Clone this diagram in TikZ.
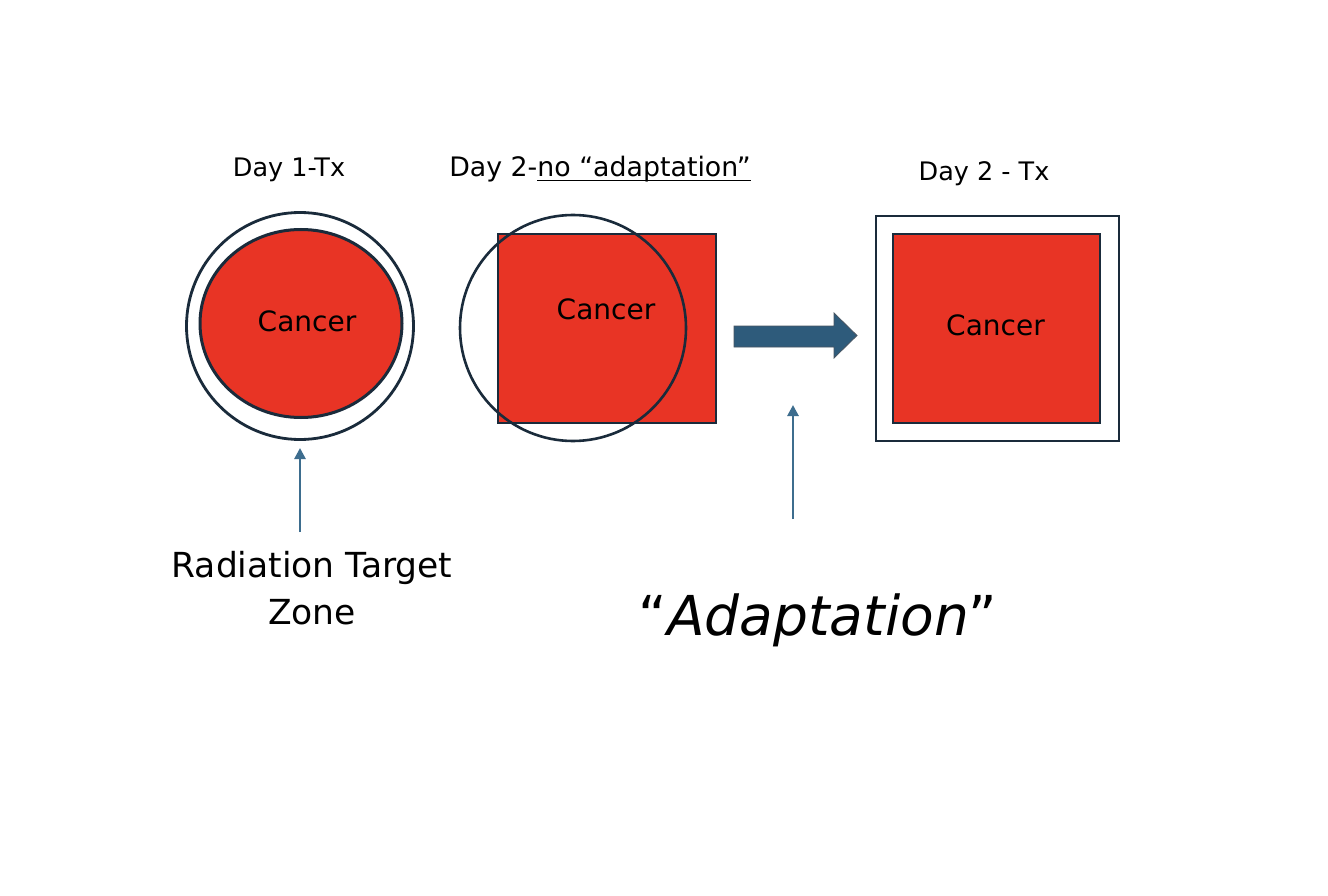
\documentclass[tikz,border=0pt]{standalone}
\usepackage{fontspec}
\setmainfont{DejaVu Sans}
\usetikzlibrary{shapes.geometric,arrows.meta}
\definecolor{cred}{HTML}{E83425}
\definecolor{cline}{HTML}{1A2B3B}
\definecolor{carrow}{HTML}{2E5B7B}
\definecolor{cthin}{HTML}{3D6D8E}
\newcommand\myul[1]{\setbox0\hbox{#1}\rlap{\raisebox{-4.5pt}{\rule{\wd0}{1.8pt}}}\box0}
\tikzset{
  title/.style={anchor=base,inner sep=0pt,font=\fontsize{25.5}{30}\selectfont},
  cancer/.style={anchor=base,inner sep=0pt,font=\fontsize{28}{32}\selectfont},
  ring/.style={draw=cline,line width=2.8pt,inner sep=0pt},
  tumor/.style={draw=cline,line width=3pt,fill=cred,inner sep=0pt},
  pointer/.style={draw=cthin,line width=2.6pt,-{Triangle[width=11pt,length=11pt]}},
  biglabel/.style={anchor=base,inner sep=0pt,font=\fontsize{34.5}{47}\selectfont},
}
\begin{document}
\begin{tikzpicture}[x=1pt,y=-1pt]
\path[use as bounding box,fill=white] (0,0) rectangle (1328,896);

% titles
\node[title] (t1) at (289,177) {Day 1-Tx};
\node[title,font=\fontsize{26.8}{30}\selectfont] (t2) at (600,177) {Day 2-\myul{no “adaptation”}};
\node[title] (t3) at (984,181) {Day 2 - Tx};

% Day 1
\node[ring,circle,minimum size=227pt] (c1o) at (300,326) {};
\node[tumor,ellipse,minimum width=202pt,minimum height=188pt] (c1i) at (301,323.5) {};
\node[cancer] (k1) at (307,331) {Cancer};

% Day 2 no adaptation
\node[tumor,rectangle,minimum width=218pt,minimum height=189pt,line width=2.6pt] (s2) at (607,328.5) {};
\node[ring,circle,minimum size=226pt,line width=2.6pt] (c2) at (573,328) {};
\node[cancer] (k2) at (606,319) {Cancer};

% Big arrow
\fill[carrow,draw=cline!80,line width=0.8pt] (734,326) -- (834,326) -- (834,313) -- (857,335.5) -- (834,358) -- (834,347) -- (734,347) -- cycle;

% Day 2 Tx
\node[ring,rectangle,draw,minimum width=243pt,minimum height=225pt,line width=2.7pt] (r3o) at (997.5,328.5) {};
\node[tumor,rectangle,minimum width=207pt,minimum height=189pt,line width=2.7pt] (r3i) at (996.5,328.5) {};
\node[cancer] (k3) at (995.5,335) {Cancer};

% thin arrows
\coordinate (p1) at (300,532);
\coordinate (p1t) at (300,448);
\draw[pointer] (p1) -- (p1t);
\coordinate (p2) at (793,519);
\coordinate (p2t) at (793,405);
\draw[pointer] (p2) -- (p2t);

% labels
\node[biglabel] (rtz1) at (312,577) {Radiation Target};
\node[biglabel] (rtz2) at (312,624) {Zone};
\node[anchor=base,inner sep=0pt,font=\fontsize{55}{60}\selectfont] (ad) at (818,635) {“\textit{Adaptation}”};
\end{tikzpicture}
\end{document}
